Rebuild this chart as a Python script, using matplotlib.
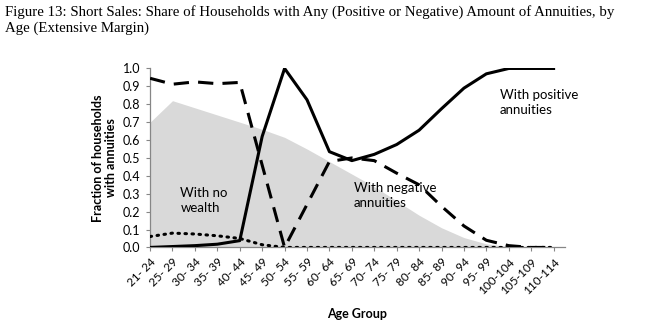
import numpy as np
import matplotlib
matplotlib.use('Agg')
import matplotlib.pyplot as plt

# age groups on the category axis
age_groups = ["21- 24", "25- 29", "30- 34", "35- 39", "40- 44", "45- 49", "50- 54",
              "55- 59", "60- 64", "65- 69", "70- 74", "75- 79", "80- 84", "85- 89",
              "90- 94", "95- 99", "100-104", "105-109", "110-114"]

# shaded background series
shaded = [0.70, 0.82, 0.78, 0.74, 0.70, 0.66, 0.615, 0.55, 0.48, 0.41, 0.34, 0.26,
          0.18, 0.11, 0.055, 0.02, 0.005, 0.0, 0.0]
# share with positive annuities
positive = [0.0, 0.005, 0.01, 0.018, 0.038, 0.62, 1.0, 0.825, 0.535, 0.485, 0.52,
            0.575, 0.655, 0.775, 0.89, 0.97, 1.0, 1.0, 1.0]
# share with negative annuities
negative = [0.945, 0.912, 0.925, 0.915, 0.922, 0.46, 0.0, 0.24, 0.48, 0.50, 0.485,
            0.415, 0.35, 0.23, 0.12, 0.04, 0.01, 0.0, 0.0]
# share with no wealth
no_wealth = [0.061, 0.08, 0.075, 0.065, 0.05, 0.015, 0.0, 0.0, 0.0, 0.0, 0.0, 0.0,
             0.0, 0.0, 0.0, 0.0, 0.0, 0.0, 0.0]

yticks = np.arange(0, 1.01, 0.1)

plt.rcParams['font.family'] = ['Lato', 'DejaVu Sans']

fig = plt.figure(figsize=(6.7, 3.26), dpi=100)
ax = fig.add_axes([0.224, 0.241, 0.843 - 0.224, 0.790 - 0.241])

x = np.arange(len(age_groups))
ax.fill_between(x, 0, shaded, color="#d9d9d9", linewidth=0, zorder=1)
ax.plot(x, no_wealth, color="black", linewidth=2.2, linestyle=(0, (0.5, 1.8)),
        dash_capstyle="round", zorder=3)
ax.plot(x, negative, color="black", linewidth=2.2, linestyle=(0, (5.0, 3.0)), zorder=3)
ax.plot(x, positive, color="black", linewidth=2.2, zorder=4)

ax.set_xlim(0, 18.5)
ax.set_ylim(0, 1.0)
ax.set_yticks(yticks)
ax.set_yticklabels([f"{v:.1f}" for v in yticks], fontsize=9)
ax.set_xticks(x)
ax.set_xticklabels(age_groups, rotation=45, ha="right", rotation_mode="anchor",
                   fontsize=8.5)

for side in ["top", "right"]:
    ax.spines[side].set_visible(False)
for side in ["left", "bottom"]:
    ax.spines[side].set_color("#868686")
    ax.spines[side].set_linewidth(0.9)
ax.tick_params(axis="both", color="#868686", length=3, width=0.8)
ax.tick_params(axis="y", pad=4)

ax.set_ylabel("Fraction of households\nwith annuities", fontsize=9,
              fontweight="bold", labelpad=4, linespacing=1.1)
ax.set_xlabel("Age Group", fontsize=9, fontweight="bold", labelpad=8)

ax.text(1.35, 0.26, "With no\nwealth", fontsize=9.5, va="center", ha="left",
        linespacing=1.3)
ax.text(9.1, 0.29, "With negative\nannuities", fontsize=9.5, va="center", ha="left",
        linespacing=1.3)
ax.text(15.6, 0.81, "With positive\nannuities", fontsize=9.5, va="center", ha="left",
        linespacing=1.3)

fig.text(0.008, 0.985,
         "Figure 13: Short Sales: Share of Households with Any (Positive or Negative) Amount of Annuities, by\n"
         "Age (Extensive Margin)",
         family="Liberation Serif", fontsize=10.7, va="top", ha="left", linespacing=1.25)

fig.savefig("out.png", dpi=100)
